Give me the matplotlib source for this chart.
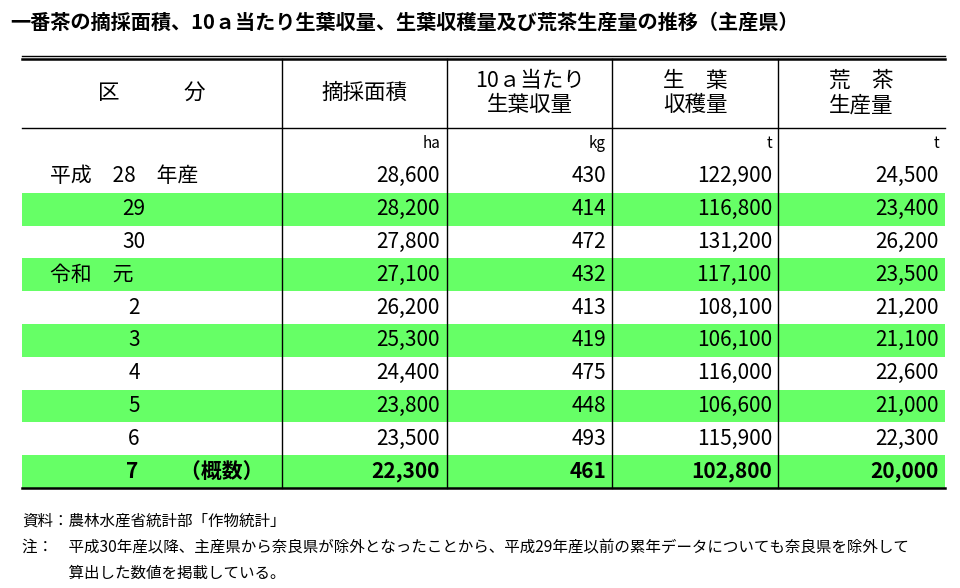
import matplotlib
matplotlib.use("Agg")
import matplotlib.pyplot as plt
from matplotlib.patches import Rectangle

plt.rcParams["font.family"] = "Noto Sans CJK JP"

title = "一番茶の摘採面積、10ａ当たり生葉収量、生葉収穫量及び荒茶生産量の推移（主産県）"
headers = ["区　　　分", "摘採面積", "10ａ当たり\n生葉収量", "生　葉\n収穫量", "荒　茶\n生産量"]
units = ["", "ha", "kg", "t", "t"]
years = ["平成　28　年産", "29", "30", "令和　元", "2", "3", "4", "5", "6", "7　　（概数）"]
area = ["28,600", "28,200", "27,800", "27,100", "26,200", "25,300", "24,400", "23,800", "23,500", "22,300"]
yield10a = ["430", "414", "472", "432", "413", "419", "475", "448", "493", "461"]
harvest = ["122,900", "116,800", "131,200", "117,100", "108,100", "106,100", "116,000", "106,600", "115,900", "102,800"]
aracha = ["24,500", "23,400", "26,200", "23,500", "21,200", "21,100", "22,600", "21,000", "22,300", "20,000"]
green_rows = [1, 3, 5, 7, 9]
notes = ["資料：農林水産省統計部「作物統計」",
         "注：　平成30年産以降、主産県から奈良県が除外となったことから、平成29年産以前の累年データについても奈良県を除外して",
         "　　　算出した数値を掲載している。"]

fig = plt.figure(figsize=(9.6, 5.88), dpi=100)
ax = fig.add_axes([0, 0, 1, 1])
ax.set_xlim(0, 960)
ax.set_ylim(588, 0)
ax.axis("off")

L, R = 22, 945
vx = [282, 447, 612, 778]
top, hbot, ubot, bot = 58, 128, 160, 488
rh = (bot - ubot) / len(years)

ax.text(10, 22, title, fontsize=14.5, fontweight="bold", va="center", ha="left")

for i in green_rows:
    ax.add_patch(Rectangle((L, ubot + i * rh), R - L, rh, color="#66ff66", lw=0))

ax.plot([L, R], [top - 2, top - 2], color="black", lw=1)
ax.plot([L, R], [top + 1, top + 1], color="black", lw=1.8)
ax.plot([L, R], [hbot, hbot], color="black", lw=1)
ax.plot([L, R], [bot, bot], color="black", lw=1.8)
for x in vx:
    ax.plot([x, x], [top + 1, bot], color="black", lw=1)

cx = [152, 364, 530, 695, 861]
for c, h in zip(cx, headers):
    ax.text(c, (top + hbot) / 2, h, fontsize=15.5, ha="center", va="center", linespacing=1.15)
rights = [440, 606, 772, 939]
for r, u in zip(rights, units[1:]):
    ax.text(r, 143, u, fontsize=11, ha="right", va="center")

for i, y in enumerate(years):
    yc = ubot + (i + 0.5) * rh
    bold = i == len(years) - 1
    fw = "bold" if bold else "normal"
    if i == 0 or y.startswith("令和"):
        ax.text(50, yc, y, fontsize=15, ha="left", va="center", fontweight=fw)
    elif bold:
        ax.text(126, yc, y, fontsize=15, ha="left", va="center", fontweight=fw)
    else:
        ax.text(134, yc, y, fontsize=15, ha="center", va="center", fontweight=fw)
    for r, col in zip(rights, [area, yield10a, harvest, aracha]):
        ax.text(r, yc, col[i], fontsize=15, ha="right", va="center", fontweight=fw)

for yy, n in zip([521, 548, 573], notes):
    ax.text(22, yy, n, fontsize=11.2, ha="left", va="center")

fig.savefig("out.png", dpi=100)
